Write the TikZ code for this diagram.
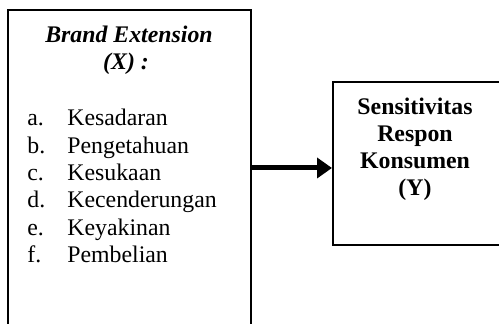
\documentclass[tikz,border=0pt]{standalone}
\usepackage{fontspec}
\setmainfont{Liberation Serif}
\usetikzlibrary{fit,arrows.meta}
\begin{document}
\begin{tikzpicture}[x=0.5pt,y=-0.5pt,
  boxline/.style={draw, line width=1pt, inner sep=0pt},
  txt/.style={anchor=base, inner sep=0pt, font=\fontsize{11.9}{13.65}\selectfont},
  lbl/.style={txt, anchor=base west},
  bigarrow/.style={line width=2.5pt, -{Triangle[length=7.5pt,width=10pt]}}]
\useasboundingbox (0,0) rectangle (499,324);
\clip (0,0) rectangle (499,324);
% boxes
\node[boxline, fit={(8,10) (251,345)}] (L) {};
\node[boxline, fit={(333,82) (530,245)}] (R) {};
% left box text
\node[txt] (t1) at (129,43) {\textbf{\textit{Brand Extension}}};
\node[txt] (t2) at (126,70) {\textbf{\textit{(X) :}}};
\node[lbl] (la) at (27,126) {a.};
\node[lbl] (ia) at (67,126) {Kesadaran};
\node[lbl] (lb) at (27,153.3) {b.};
\node[lbl] (ib) at (67,153.3) {Pengetahuan};
\node[lbl] (lc) at (27,180.6) {c.};
\node[lbl] (ic) at (67,180.6) {Kesukaan};
\node[lbl] (ld) at (27,207.9) {d.};
\node[lbl] (id) at (67,207.9) {Kecenderungan};
\node[lbl] (le) at (27,235.2) {e.};
\node[lbl] (ie) at (67,235.2) {Keyakinan};
\node[lbl] (lf) at (27,262.5) {f.};
\node[lbl] (if) at (67,262.5) {Pembelian};
% right box text
\node[txt] (r1) at (415,115) {\textbf{Sensitivitas}};
\node[txt] (r2) at (415,142) {\textbf{Respon}};
\node[txt] (r3) at (415,169) {\textbf{Konsumen}};
\node[txt] (r4) at (415,196) {\textbf{(Y)}};
% arrow
\coordinate (a0) at (251,168);
\draw[bigarrow] (a0) -- (R.west |- a0);
\end{tikzpicture}
\end{document}
